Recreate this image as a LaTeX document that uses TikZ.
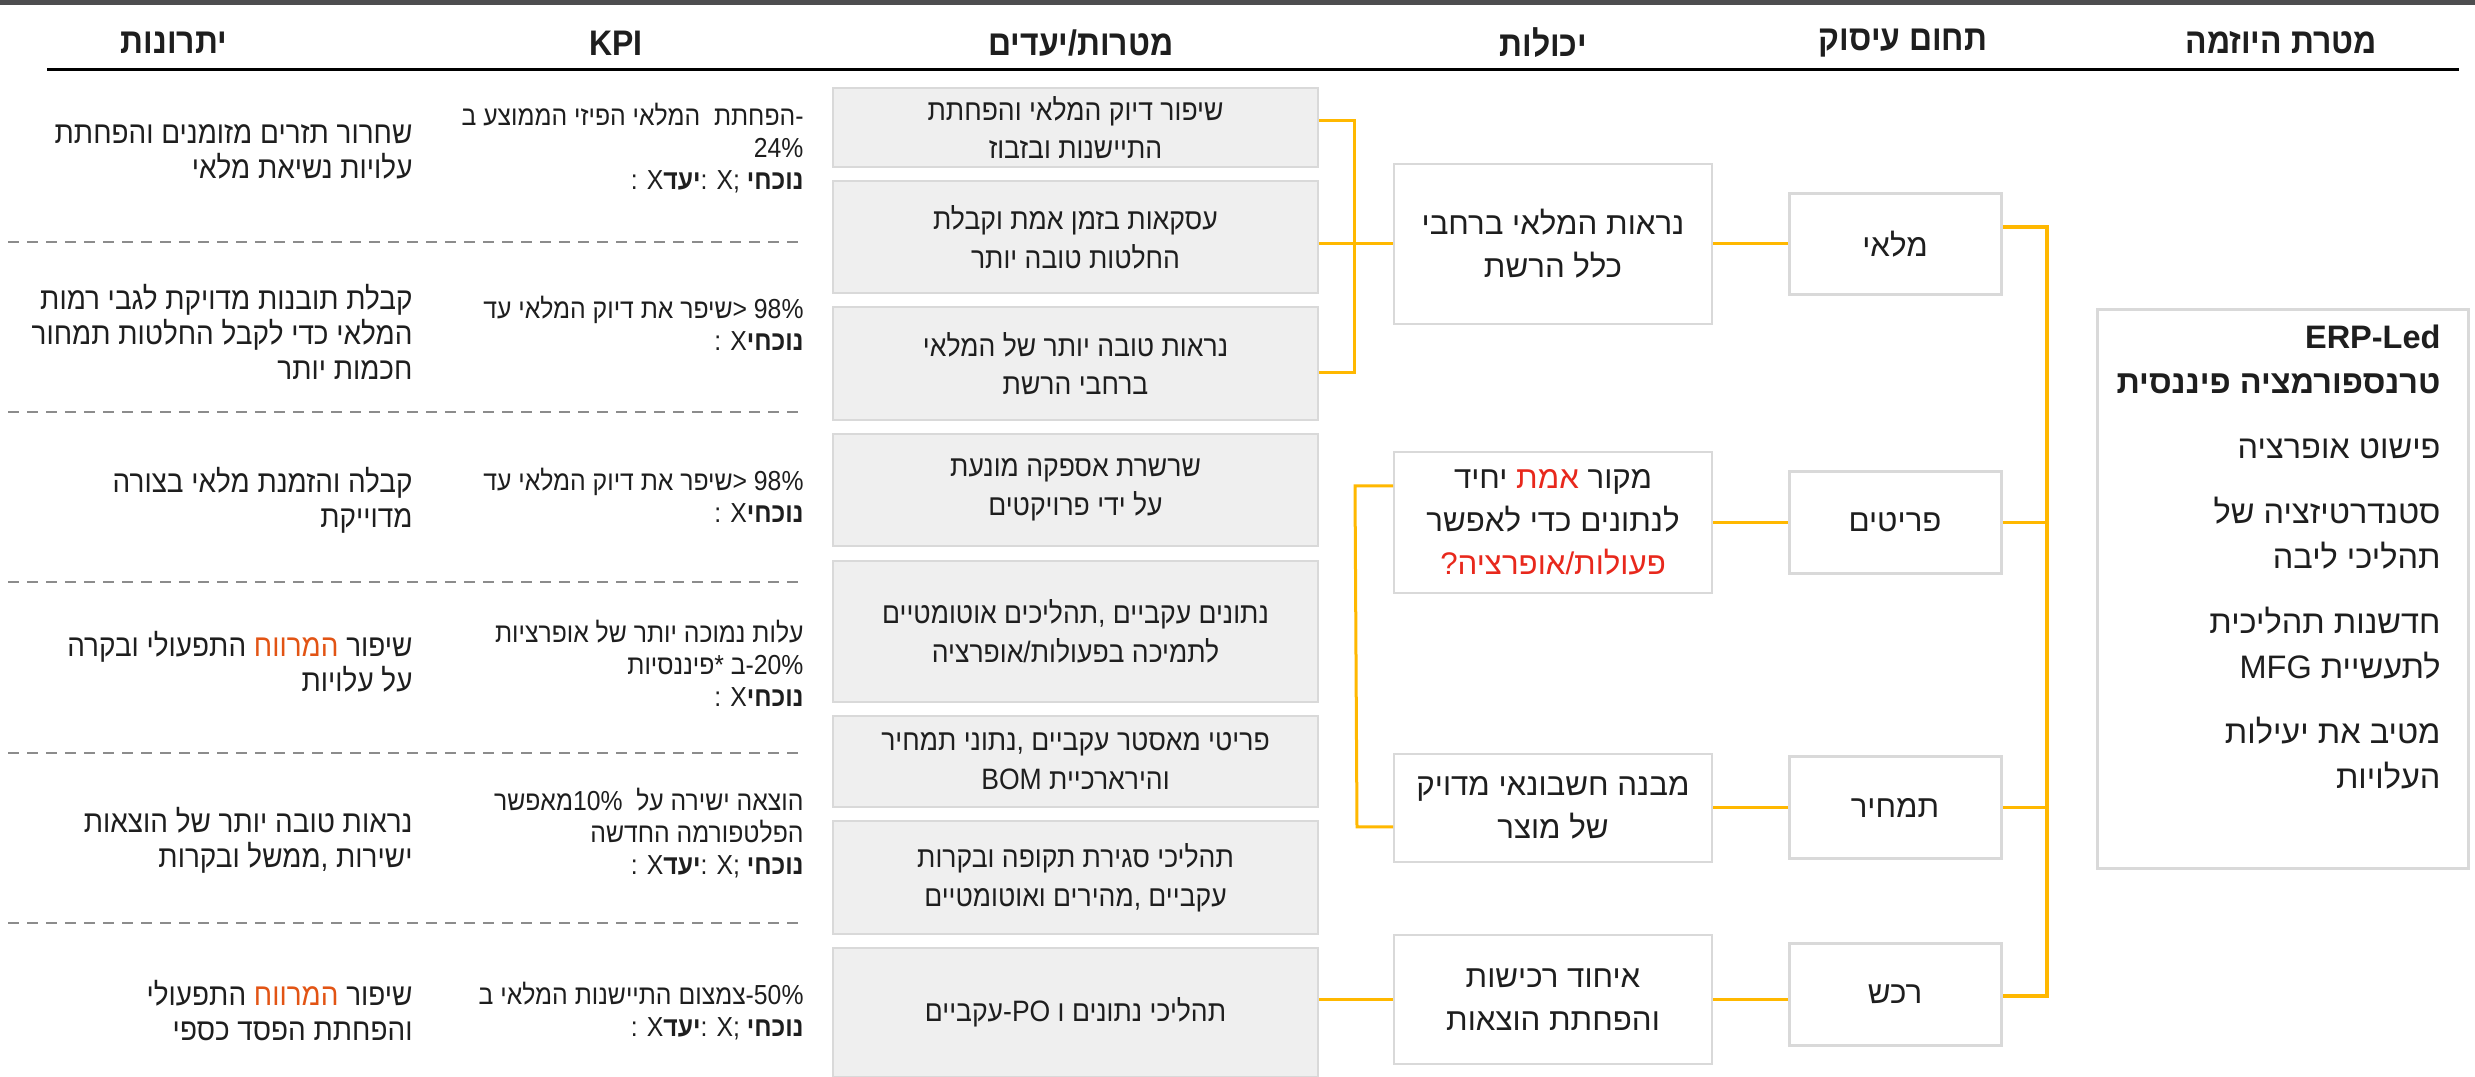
\documentclass[tikz,border=0pt]{standalone}
\usepackage{fontspec}
\setmainfont{Liberation Sans}
\newfontfamily\heb[Script=Hebrew]{Liberation Sans}
\newfontfamily\hebc[Script=Hebrew,FakeStretch=0.9]{Liberation Sans}
\newfontfamily\latc[FakeStretch=0.9]{Liberation Sans}
\TeXXeTstate=1
\let\hebfont\heb
\newcommand\RL[1]{{\hebfont\beginR #1\endR}}
\newcommand\curtgt{: X\textbf{\RL{יעד}}: X; \textbf{\RL{נוכחי}}}
\newcommand\curonly{: X\textbf{\RL{נוכחי}}}
\definecolor{amber}{RGB}{255,184,0}
\definecolor{boxgray}{RGB}{217,217,217}
\definecolor{goalfill}{RGB}{239,239,239}
\definecolor{redtxt}{RGB}{232,40,28}
\definecolor{orangetxt}{RGB}{226,84,20}
\definecolor{topbar}{RGB}{77,77,79}
\definecolor{dashgray}{RGB}{140,140,140}
\definecolor{txt}{RGB}{30,30,30}
\begin{document}
\begin{tikzpicture}[x=0.4pt,y=-0.4pt,
  every node/.style={text=txt},
  hdr/.style={font=\latc\let\hebfont\hebc\bfseries\fontsize{14.2}{16}\selectfont, inner sep=0pt},
  goalbox/.style={draw=boxgray, line width=0.8pt, fill=goalfill, minimum width=194pt, inner sep=0pt, align=center, font=\latc\let\hebfont\hebc\fontsize{11.8}{15.5}\selectfont},
  capbox/.style={draw=boxgray, line width=0.8pt, fill=white, minimum width=127.2pt, inner sep=0pt, align=center, font=\fontsize{12.5}{17.2}\selectfont},
  areabox/.style={draw=boxgray, line width=1.2pt, fill=white, minimum width=84.8pt, minimum height=40.6pt, inner sep=0pt, font=\fontsize{12.5}{15}\selectfont},
  initbox/.style={draw=boxgray, line width=1.2pt, fill=white, minimum width=148.4pt, minimum height=223.2pt, inner sep=0pt},
  kpi/.style={anchor=east, align=right, inner sep=0pt, font=\latc\let\hebfont\hebc\fontsize{11}{12.8}\selectfont},
  benefit/.style={anchor=east, align=right, inner sep=0pt, font=\latc\let\hebfont\hebc\fontsize{12.4}{14}\selectfont},
  conn/.style={draw=amber, line width=1.2pt},
  dashsep/.style={draw=dashgray, line width=0.8pt, dash pattern=on 4.2pt off 3.4pt},
]
\useasboundingbox (0,0) rectangle (2475,1077);
\fill[white] (0,0) rectangle (2475,1077);
\fill[topbar] (0,0) rectangle (2475,5);

% headers
\node[hdr] (h1) at (174,43) {\RL{יתרונות}};
\node[hdr] (h2) at (616,43) {KPI};
\node[hdr] (h3) at (1081,43) {\RL{יעדים}/\RL{מטרות}};
\node[hdr] (h4) at (1543,43) {\RL{יכולות}};
\node[hdr] (h5) at (1903,43) {\RL{תחום עיסוק}};
\node[hdr] (h6) at (2281,43) {\RL{מטרת היוזמה}};
\draw[line width=1.2pt, black] (47,70) -- (2459,70);

% dashed separators
\foreach \yy in {242,412,582,753,923} \draw[dashsep] (8,\yy) -- (800,\yy);

% benefits
\node[benefit] (bn1) at (413,152) {\RL{שחרור תזרים מזומנים והפחתת}\\\RL{עלויות נשיאת מלאי}};
\node[benefit] (bn2) at (413,332) {\RL{קבלת תובנות מדויקת לגבי רמות}\\\RL{המלאי כדי לקבל החלטות תמחור}\\\RL{חכמות יותר}};
\node[benefit] (bn3) at (413,500) {\RL{קבלה והזמנת מלאי בצורה}\\\RL{מדוייקת}};
\node[benefit] (bn4) at (413,662) {\RL{התפעולי ובקרה} \textcolor{orangetxt}{\RL{המרווח}} \RL{שיפור}\\\RL{על עלויות}};
\node[benefit] (bn5) at (413,840) {\RL{נראות טובה יותר של הוצאות}\\\RL{ממשל ובקרות}, \RL{ישירות}};
\node[benefit] (bn6) at (413,1011) {\RL{התפעולי} \textcolor{orangetxt}{\RL{המרווח}} \RL{שיפור}\\\RL{והפחתת הפסד כספי}};

% KPI
\node[kpi] (k1) at (804,148) {\RL{הפחתת\ \ המלאי הפיזי הממוצע ב}-\\24\%\\\curtgt};
\node[kpi] (k2) at (804,323) {\RL{שיפר את דיוק המלאי עד}> 98\%\\\curonly};
\node[kpi] (k3) at (804,495) {\RL{שיפר את דיוק המלאי עד}> 98\%\\\curonly};
\node[kpi] (k4) at (804,663) {\RL{עלות נמוכה יותר של אופרציות}\\\RL{פיננסיות}* \RL{ב}-20\%\\\curonly};
\node[kpi] (k5) at (804,833) {\RL{מאפשר}10\%\ \ \RL{הוצאה ישירה על}\\\RL{הפלטפורמה החדשה}\\\curtgt};
\node[kpi] (k6) at (804,1011) {\RL{צמצום התיישנות המלאי ב}-50\%\\\curtgt};

% goals
\node[goalbox, minimum height=31.6pt] (g1) at (1075.5,127.5) {\RL{שיפור דיוק המלאי והפחתת}\\\RL{התיישנות ובזבוז}};
\node[goalbox, minimum height=44.8pt] (g2) at (1075.5,237) {\RL{עסקאות בזמן אמת וקבלת}\\\RL{החלטות טובה יותר}};
\node[goalbox, minimum height=45.2pt] (g3) at (1075.5,363.5) {\RL{נראות טובה יותר של המלאי}\\\RL{ברחבי הרשת}};
\node[goalbox, minimum height=44.8pt] (g4) at (1075.5,490) {\RL{שרשרת אספקה מונעת}\\\RL{על ידי פרויקטים}};
\node[goalbox, minimum height=56.4pt] (g5) at (1075.5,631.5) {\RL{תהליכים אוטומטיים}, \RL{נתונים עקביים}\\\RL{אופרציה}/\RL{לתמיכה בפעולות}};
\node[goalbox, minimum height=36.4pt] (g6) at (1075.5,761.5) {\RL{נתוני תמחיר}, \RL{פריטי מאסטר עקביים}\\BOM \RL{והירארכיית}};
\node[goalbox, minimum height=45.2pt] (g7) at (1075.5,877.5) {\RL{תהליכי סגירת תקופה ובקרות}\\\RL{מהירים ואוטומטיים}, \RL{עקביים}};
\node[goalbox, minimum height=51.6pt] (g8) at (1075.5,1012.5) {\RL{עקביים}-PO \RL{תהליכי נתונים ו}};

% capabilities
\node[capbox, minimum height=64pt] (c1) at (1553,244) {\RL{נראות המלאי ברחבי}\\\RL{כלל הרשת}};
\node[capbox, minimum height=56.4pt] (c2) at (1553,522.5) {\RL{יחיד} \textcolor{redtxt}{\RL{אמת}} \RL{מקור}\\\RL{לנתונים כדי לאפשר}\\\textcolor{redtxt}{?\RL{אופרציה}/\RL{פעולות}}};
\node[capbox, minimum height=43.2pt] (c3) at (1553,808) {\RL{מבנה חשבונאי מדויק}\\\RL{של מוצר}};
\node[capbox, minimum height=51.6pt] (c4) at (1553,999.5) {\RL{איחוד רכישות}\\\RL{והפחתת הוצאות}};

% business areas
\node[areabox] (b1) at (1895,244) {\RL{מלאי}};
\node[areabox] (b2) at (1895,522.5) {\RL{פריטים}};
\node[areabox] (b3) at (1895,807.5) {\RL{תמחיר}};
\node[areabox] (b4) at (1895,994.5) {\RL{רכש}};

% initiative
\node[initbox] (ini) at (2282.5,589) {};
\node[anchor=east, align=right, inner sep=0pt, font=\fontsize{13}{18}\selectfont] (initxt) at (2441,557)
  {\textbf{ERP-Led}\\
   \textbf{\RL{טרנספורמציה פיננסית}}\\[8pt]
   \RL{פישוט אופרציה}\\[8pt]
   \RL{סטנדרטיזציה של}\\
   \RL{תהליכי ליבה}\\[8pt]
   \RL{חדשנות תהליכית}\\
   MFG \RL{לתעשיית}\\[8pt]
   \RL{מטיב את יעילות}\\
   \RL{העלויות}};

% connectors
\coordinate (bus1) at (1354,244);
\draw[conn] ([yshift=2.6pt]g1.east) -| (bus1);
\draw[conn] ([yshift=-3.8pt]g3.east) -| (bus1);
\draw[conn] (g2.east |- bus1) -- (c1.west);
\coordinate (bus2a) at (1355,486);
\coordinate (bus2b) at (1357,827);
\draw[conn] (c2.west |- bus2a) -- (bus2a) -- (bus2b) -- (c3.west |- bus2b);
\draw[conn] (g8.east |- c4.west) -- (c4.west);

\draw[conn] (c1.east) -- (b1.west);
\draw[conn] (c2.east) -- (b2.west);
\draw[conn] (c3.east) -- (c3.east -| b3.west);
\draw[conn] (c4.east) -- (c4.east -| b4.west);

\coordinate (trtop) at (2047,227);
\coordinate (trbot) at (2047,996);
\draw[conn, line width=1.3pt] (b1.east |- trtop) -- (trtop) -- (trbot) -- (b4.east |- trbot);
\draw[conn] (b2.east) -- (b2.east -| trtop);
\draw[conn] (b3.east) -- (b3.east -| trtop);
\end{tikzpicture}
\end{document}
